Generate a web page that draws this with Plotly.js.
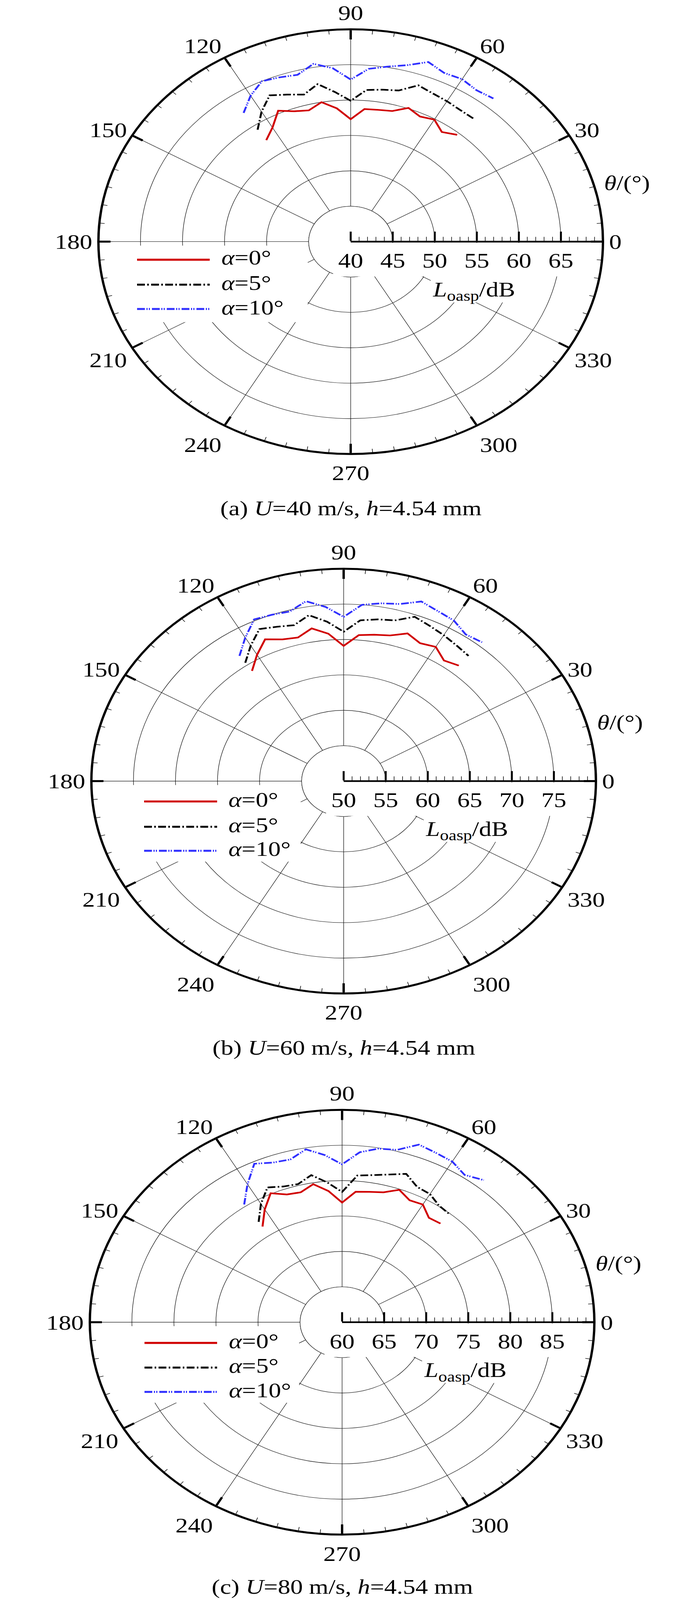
<!DOCTYPE html>
<html>
<head>
<meta charset="utf-8">
<script src="https://cdn.plot.ly/plotly-3.0.1.min.js"></script>
<style>html,body{margin:0;padding:0;background:#fff;overflow:hidden}</style>
</head>
<body>
<div id="wrap"><div id="plot" style="width:1772px;height:4867px"></div></div>
<script>
// microphone angles (deg)
const theta = [125, 120, 115, 110, 105, 100, 95, 90, 85, 80, 75, 70, 65, 60, 55, 50];

// L_oasp (dB), U = 40 m/s
const red40 = [57.5, 58.6, 60.4, 59.6, 59.2, 60.0, 58.9, 57.3, 58.8, 58.9, 59.1, 60.1, 59.5, 59.9, 58.9, 59.7];
const black40 = [59.3, 61.2, 62.8, 62.1, 61.5, 62.6, 61.2, 59.9, 61.5, 61.8, 62.1, 63.5, 63.1, 62.9, 62.7, 62.7];
const blue40 = [62.2, 63.8, 65.0, 64.7, 64.4, 65.5, 64.6, 62.9, 64.5, 65.1, 65.8, 67.0, 66.3, 66.5, 66.1, 66.4];
// U = 60 m/s
const red60 = [69.0, 70.6, 72.1, 71.3, 71.0, 71.9, 70.9, 69.1, 70.7, 71.0, 71.3, 72.2, 71.5, 71.9, 70.8, 71.3];
const black60 = [70.4, 72.1, 73.7, 73.2, 72.8, 73.8, 72.6, 71.1, 72.8, 73.2, 73.5, 74.7, 74.2, 73.8, 73.4, 73.1];
const blue60 = [71.6, 73.4, 75.2, 75.0, 74.8, 75.8, 74.7, 73.2, 75.0, 75.5, 75.9, 77.0, 76.5, 76.2, 75.3, 75.6];
// U = 80 m/s
const red80 = [76.5, 78.4, 80.1, 79.2, 79.0, 79.8, 78.6, 76.9, 78.5, 78.7, 79.0, 79.9, 79.0, 79.2, 78.0, 78.2];
const black80 = [77.3, 79.3, 81.0, 80.4, 80.2, 81.1, 79.8, 78.4, 80.8, 81.1, 81.6, 82.3, 81.1, 80.9, 80.1, 79.9];
const blue80 = [80.3, 82.5, 84.7, 84.0, 83.8, 84.8, 83.7, 82.3, 84.1, 84.9, 85.2, 86.7, 86.4, 86.2, 85.4, 86.2];

const captions = ["(a) <i>U</i>=40 m/s, <i>h</i>=4.54 mm", "(b) <i>U</i>=60 m/s, <i>h</i>=4.54 mm", "(c) <i>U</i>=80 m/s, <i>h</i>=4.54 mm"];
const rStart = [40, 50, 60];
const seriesNames = ["<i>α</i>=0°", "<i>α</i>=5°", "<i>α</i>=10°"];
const angleTicks = [0, 30, 60, 90, 120, 150, 180, 210, 240, 270, 300, 330];

const panels = [
  [red40, black40, blue40],
  [red60, black60, blue60],
  [red80, black80, blue80],
];

const W = 1772, H = 4867, R = 646;
const cx = [898, 880, 876], cy = [735, 2376, 4022];
const legX = [[351, 537], [369, 556], [370, 556]];
const legDy = [[55, 131, 205], [62, 139, 212], [63, 138, 212]];
const legTextX = [565, 583, 584];

const FONT = "Liberation Serif, Times New Roman, serif";
const colors = ["#d00000", "#000000", "#2f2fff"];
const dashes = ["solid", "20px,6px,4px,6px", "20px,4px,3px,3px,3px,5px"];

const px = (x) => x / W;
const py = (y) => 1 - y / H;

const layout = {
  width: W, height: H,
  margin: { l: 0, r: 0, t: 0, b: 0 },
  paper_bgcolor: "white",
  showlegend: false,
  font: { family: FONT, size: 64, color: "black" },
  shapes: [],
  annotations: [],
};
const traces = [];

for (let k = 0; k < 3; k++) {
  const r0 = rStart[k];
  const range = [r0, r0 + 30];
  const pxdb = R / 30;
  const domain = {
    x: [px(cx[k] - R), px(cx[k] + R)],
    y: [py(cy[k] + R), py(cy[k] - R)],
  };
  const nA = k === 0 ? "polar" : "polar" + (3 * k + 1);
  const nB = "polar" + (3 * k + 2);
  const nC = "polar" + (3 * k + 3);

  // grid layer
  layout[nA] = {
    domain, bgcolor: "white",
    angularaxis: {
      rotation: 0, direction: "counterclockwise",
      tickmode: "array", tickvals: angleTicks, showticklabels: false, ticks: "",
      showgrid: true, gridcolor: "#111", gridwidth: 1.3, showline: false,
    },
    radialaxis: {
      range, angle: 0, tickmode: "array",
      tickvals: [r0 + 5, r0 + 10, r0 + 15, r0 + 20, r0 + 25],
      showticklabels: false, ticks: "", showgrid: true, gridcolor: "#111", gridwidth: 1.3, showline: false,
    },
  };
  // minor ticks layer
  const minorA = [], minorR = [];
  for (let a = 0; a < 360; a += 5) minorA.push(a);
  for (let r = r0; r <= r0 + 30; r += 1) minorR.push(r);
  layout[nB] = {
    domain, bgcolor: "rgba(0,0,0,0)",
    angularaxis: {
      rotation: 0, direction: "counterclockwise",
      tickmode: "array", tickvals: minorA, showticklabels: false,
      ticks: "inside", ticklen: 13, tickwidth: 1.5, tickcolor: "black",
      showgrid: false, showline: false,
    },
    radialaxis: {
      range, angle: 0, side: "clockwise", tickmode: "array", tickvals: minorR,
      showticklabels: false, ticks: "inside", ticklen: 14, tickwidth: 1.5, tickcolor: "black",
      showgrid: false, showline: false,
    },
  };
  // major ticks, lines and labels
  const rt = [r0, r0 + 5, r0 + 10, r0 + 15, r0 + 20, r0 + 25];
  layout[nC] = {
    domain, bgcolor: "rgba(0,0,0,0)",
    angularaxis: {
      rotation: 0, direction: "counterclockwise",
      tickmode: "array", tickvals: angleTicks, ticktext: angleTicks.map(String),
      ticks: "inside", ticklen: 28, tickwidth: 6, tickcolor: "black",
      showgrid: false, showline: true, linewidth: 6, linecolor: "black",
      tickfont: { family: FONT, size: 64, color: "black" },
    },
    radialaxis: {
      range, angle: 0, side: "clockwise", tickmode: "array", tickvals: rt, ticktext: rt.map(String),
      ticks: "inside", ticklen: 28, tickwidth: 5, tickcolor: "black",
      showgrid: false, showline: true, linewidth: 5, linecolor: "black",
      tickfont: { family: FONT, size: 64, color: "black" },
    },
  };

  // hole around the centre (hides the spokes)
  traces.push({
    type: "barpolar", subplot: nA, r: [5], base: [r0], theta: [0], width: [360],
    marker: { color: "white", line: { color: "#222", width: 1.3 } }, hoverinfo: "skip",
  });

  // white boxes behind legend, tick labels and axis title
  const toPol = (pts) => ({
    r: pts.map(([dx, dy]) => r0 + Math.hypot(dx, dy) / pxdb),
    t: pts.map(([dx, dy]) => (Math.atan2(-dy, dx) * 180) / Math.PI),
  });
  const boxes = [
    [[-575, 12], [-110, 12], [-110, 245], [-575, 245], [-575, 12]],
    [[-45, 4], [627, 4], [627, 106], [432, 106], [432, 185], [205, 185], [205, 106], [-45, 106], [-45, 4]],
  ];
  boxes.forEach((b) => {
    const p = toPol(b);
    traces.push({
      type: "scatterpolar", subplot: nB, mode: "lines", r: p.r, theta: p.t,
      fill: "toself", fillcolor: "white", line: { width: 0, color: "white" }, hoverinfo: "skip",
    });
  });

  // data
  panels[k].forEach((vals, i) => {
    traces.push({
      type: "scatterpolar", subplot: nC, mode: "lines", r: vals, theta: theta,
      name: seriesNames[i],
      line: { color: colors[i], width: 5, dash: dashes[i] },
    });
    // legend sample + text
    const ly = cy[k] + legDy[k][i];
    layout.shapes.push({
      type: "line", xref: "paper", yref: "paper",
      x0: px(legX[k][0]), x1: px(legX[k][1]), y0: py(ly), y1: py(ly),
      line: { color: colors[i], width: 6, dash: dashes[i] },
    });
    layout.annotations.push({
      xref: "paper", yref: "paper", x: px(legTextX[k]), y: py(ly - 6),
      xanchor: "left", yanchor: "middle", showarrow: false, text: seriesNames[i],
      font: { family: FONT, size: 64, color: "black" },
    });
  });

  layout.annotations.push(
    {
      xref: "paper", yref: "paper", x: px(cx[k] + 707), y: py(cy[k] - 180),
      xanchor: "center", yanchor: "middle", showarrow: false, text: "<i>θ</i>/(°)",
      font: { family: FONT, size: 64, color: "black" },
    },
    {
      xref: "paper", yref: "paper", x: px(cx[k] + 315), y: py(cy[k] + 150),
      xanchor: "center", yanchor: "middle", showarrow: false, text: "<i>L</i><sub>oasp</sub>/dB",
      font: { family: FONT, size: 64, color: "black" },
    },
    {
      xref: "paper", yref: "paper", x: px(cx[k]), y: py(Math.min(cy[k] + 848, H - 3)),
      xanchor: "center", yanchor: "bottom", showarrow: false, text: captions[k],
      font: { family: FONT, size: 64, color: "black" },
    }
  );
}

Plotly.newPlot("plot", traces, layout, { staticPlot: true });

// the window can be shorter than the figure; squeeze it so the whole figure stays visible
const fit = Math.min(1, window.innerHeight / H);
if (fit < 1) {
  const wrap = document.getElementById("wrap");
  wrap.style.height = Math.floor(H * fit) + "px";
  wrap.style.overflow = "hidden";
  const el = document.getElementById("plot");
  el.style.transformOrigin = "0 0";
  el.style.transform = "scaleY(" + fit + ")";
}
</script>
</body>
</html>
